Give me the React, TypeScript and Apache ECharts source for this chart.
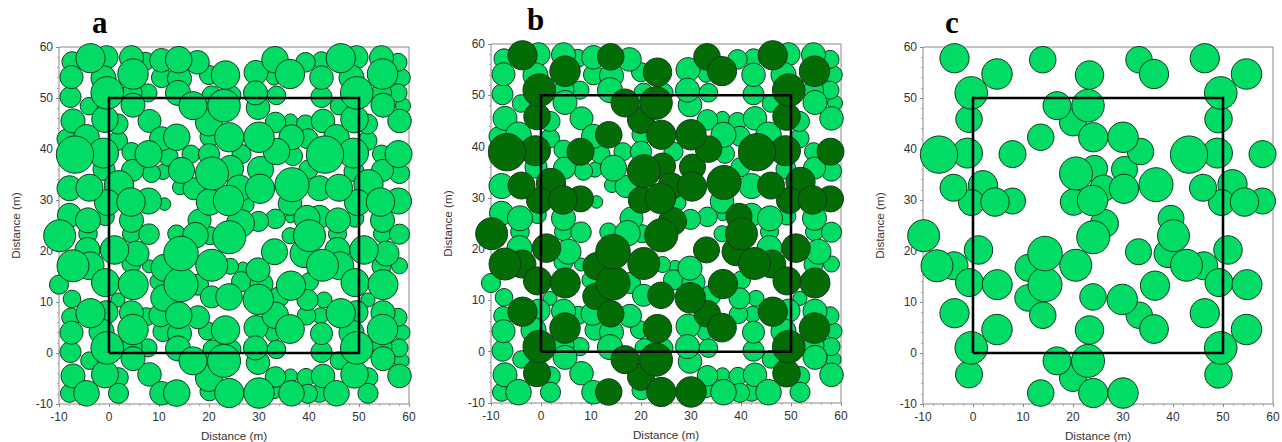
import React, { useEffect, useRef } from "react";
import * as echarts from "echarts";

// [x (m), y (m), diameter (m)]
const largeTreesBehind: number[][] = [[2,32.9,5.85],[51.9,33.1,5.85]];

const largeTrees: number[][] = [
  [-3.7,57.8,5.85],[4.8,54.7,6.1],[13.95,57.5,5.3],[23.3,54.5,5.7],[33.2,57.5,5.3],[36.2,54.7,5.85],[46.35,57.8,5.85],[54.7,54.7,6.1],
  [-0.35,51,6.5],[49.55,51,6.5],[16.8,48.5,5.6],[23,48.5,6.5],[-0.8,45.85,5.3],[49.1,45.85,5.5],[20,45.2,5.4],[13.55,42.3,5.3],
  [24.05,42.3,5.85],[30,42.3,6.1],[33.5,39.5,5.3],[-6.8,38.9,7.45],[-1.1,39.2,6],[7.9,39,5.4],[43.2,38.9,7.45],[48.9,39.2,6],[57.9,39,5.4],
  [24.3,36.2,5.2],[30.3,36,5.2],[20.6,35.2,6.6],[-3.9,32.4,5.4],[46,32.4,5.4],[36.6,33,6.8],[30.2,32.2,5.85],
  [26.05,32.3,5.3],[-0.3,29.5,5.2],[4.4,29.6,5.7],[7.9,29.8,5.2],[20.1,29.6,5.3],[23.9,29.9,6.1],[49.7,29.5,5.2],[54.3,29.6,5.7],[57.9,29.8,5.2],
  [39.6,26.4,5.2],[26.3,25.4,5.6],[-9.87,23,6.4],[40.1,23,6.4],[24.05,22.7,6.6],[1.1,20.2,5.7],[51,20.2,5.7],[33.1,19.85,5.2],[39,19.5,5.6],
  [14.4,19.5,6.9],[20.55,17.2,6.4],[11.1,16.7,5.4],[-3.8,17.1,5.6],[-7.2,17.1,6.4],[46.15,17.1,5.6],[42.7,17.2,6.4],[-0.7,13.8,5.6],[49.2,13.8,5.6],
  [4.85,13.4,6],[54.8,13.4,6],[14.4,13.4,6.8],[36.4,13.2,5.85],[11,10.8,5.3],[24,11,5.3],[29.85,10.5,6.1],[13.95,7.4,5.3],[-3.7,7.8,5.85],
  [33.25,7.4,5.3],[46.35,7.8,5.85],[4.8,4.6,6.1],[23.3,4.5,5.7],[36.2,4.7,5.75],[54.7,4.6,6.1],[-0.35,1,6.5],[49.55,1,6.5],[16.8,-1.55,5.6],
  [23,-1.55,6.6],[-0.8,-4.2,5.4],[49.1,-4.2,5.5],[20,-4.9,5.4],[13.55,-7.85,5.3],[24.05,-7.85,5.85],[30,-7.85,6.1],
];

const smallTrees: number[][] = [
  [-7.4,57.1,4],[-0.5,58,4.6],[4.5,57.9,4.8],[7.3,57.2,3.6],[10.5,57.4,4.7],[17.7,57,4.7],[39.3,57,3.9],[42.5,57.3,3.6],[49.5,58,4.6],[54.5,57.9,4.8],[57.8,57,3.6],
  [-7.5,54.1,4.6],[-1.1,53.9,5],[10.5,54,4],[14.1,53.8,4.8],[20,54.5,3.8],[29.4,55,4.8],[33,54,3],[42.5,54,4.7],[48.5,54,5],[58.5,54,3.5],
  [-7.7,50.2,4.2],[4.6,51,4],[7.8,51,3.6],[13.8,51,5],[20.5,50.5,3.8],[24.5,50.5,3.8],[29.3,51,4.8],[33.5,50.5,3.7],[42.5,50.2,4.2],[54.5,51,4],[57.8,51,3.6],
  [-4,48.4,3.5],[4.8,48.6,4.8],[29.8,48.1,4.7],[46,48.4,3.5],[54.8,48.6,4.8],[58.8,48.5,3],
  [-7.2,45.5,4.8],[1.8,44.9,4],[8.1,45.5,4.6],[33.3,45.2,4.1],[36.3,45.5,2.8],[39.3,44.9,3.6],[42.8,45.5,4.7],[51.7,44.9,4],[58.1,45.5,4.7],
  [-4.5,42.3,5.1],[1.8,41.6,3.8],[10.5,42,4.8],[20.2,42.4,4],[36.5,42.3,5],[39.8,42,4],[45.5,42.3,5.1],[51.7,41.6,3.8],[-8.5,42,3.8],
  [4.5,39.4,3.8],[11.9,38.5,3.8],[16.4,39,3.6],[20,39,4.2],[26.5,39,3.8],[36.8,38.6,3.8],[54.5,39,3.6],
  [4.7,35.8,4.4],[8.5,35.2,3.6],[10.8,35.5,3],[14.5,35.8,5.2],[54.7,35.8,4.4],[58.1,35.2,4],[-1,36,4.4],[39.9,36,3.8],[49,35.6,4],
  [-7.9,32.3,5],[14.2,32.5,3],[17,32.2,4.4],[42.1,32.3,5],
  [11.1,29.2,2.5],[36.2,29.3,4.7],[27.5,29,3],
  [-7.9,27,4.8],[-4.2,26,5],[-0.7,26.7,3.5],[4.5,26,4.8],[18.1,26,4.6],[29.9,25.8,4],[33.3,26.3,3.9],[36.3,26.5,2],[42.1,26.7,4.6],[45.8,26,5],[49.2,26.4,3.5],[54.7,26,4.8],
  [-4.2,23.4,3.7],[4.5,23.4,3.6],[8,23.3,4.1],[13.5,23.4,3.5],[17.3,23.1,5.1],[20.2,23,3.6],[36.2,23,3.2],[45.7,23.4,3.6],[54.7,23.4,3.6],[58.1,23.3,4],
  [-4.3,20.2,5],[5.5,19.5,5],[45.7,20.2,5],[55.5,19.5,5],
  [4.5,17.5,3.8],[8,17,2.6],[24.3,17,3.2],[26.8,16.6,2.5],[29.8,16.3,4.8],[54.5,17,3.8],[58.1,17.1,3.2],
  [-10,13.4,3.8],[9.8,14,3.2],[17.8,13.4,4.2],[26.5,14,4],[30.5,13.5,4.6],[40.1,14,3.6],
  [-7.4,10.6,3.5],[1.8,10.4,2.8],[20.5,11,4.4],[34,11,4],[39.7,10.4,4.2],[43,10.4,3.2],[51.8,10.4,2.8],
  [-7.6,7,3.7],[-0.5,8,4.6],[4.5,7.9,4.8],[7.5,7.1,3.6],[10.3,7.4,4.6],[17.8,7,4.6],[39.5,7.3,3.7],[42.3,7.3,3.2],[49.5,8,4.6],[54.8,7.9,4.8],[57.8,7,3.6],
  [-7.5,4,4.6],[-1.5,4.2,5],[10.8,4.2,4],[14.1,3.8,4.8],[19.7,4.3,3.6],[29.4,5,4.8],[32.8,3.7,3],[42.5,3.8,4.4],[48.5,4,5],[58.6,4,3.2],
  [-7.7,0.2,4.2],[4.5,1.2,4.2],[7.8,1,3.6],[13.8,0.9,5],[20.7,0.7,3.8],[24.5,0.7,3.8],[29.3,1,4.8],[33.5,0.7,3.7],[42.5,0.2,4.2],[54.5,1.2,4.2],[58,1,3.6],
  [-3.9,-1.5,3.5],[4.8,-1.1,4.8],[29.8,-1.9,4.7],[46,-1.5,3.5],[54.8,-1.1,4.8],[58.5,-1.5,3],
  [-7.2,-4.5,4.8],[1.9,-4.8,3.9],[8.1,-4.2,4.7],[33.3,-4.7,4.1],[36.3,-4.5,2.8],[39.4,-4.8,3.6],[42.8,-4.5,4.7],[51.8,-4.8,3.9],[58.1,-4.5,4.7],
  [-7.9,-7.9,3.6],[-4.5,-7.9,5.1],[1.9,-7.9,4],[10.5,-7.9,4.7],[20.1,-7.5,3.8],[33,-7.5,3],[36.5,-7.9,5.1],[39.8,-8,3.8],[42.1,-7.9,3.6],[45.5,-7.9,5.1],[51.8,-7.9,4],
];

const plotSquare: number[][] = [[0,0],[50,0],[50,50],[0,50],[0,0]];
const panelLetters = ["a", "b", "c"];
const axisName = "Distance (m)";

const LIGHT = "#02dc64";
const DARK = "#046c04";
const EDGE = "#0f3a1e";
const PX_PER_M = 5;

const frames = [
  { left: 59, top: 47, width: 350, height: 357, letterX: 92, letterY: 7 },
  { left: 491, top: 44, width: 350, height: 359, letterX: 527, letterY: 4 },
  { left: 923, top: 47, width: 350, height: 357, letterX: 945, letterY: 7 },
];

const bySize = (a: number[], b: number[]) => a[2] - b[2];
const smallSorted = [...smallTrees].sort(bySize);
const largeSorted = [...largeTreesBehind, ...[...largeTrees].sort(bySize)];

function treeSeries(i: number, data: number[][], color: string, z: number) {
  return {
    type: "scatter",
    xAxisIndex: i,
    yAxisIndex: i,
    clip: false,
    z,
    data,
    symbol: "circle",
    symbolSize: (v: number[]) => v[2] * PX_PER_M,
    itemStyle: { color, borderColor: EDGE, borderWidth: 1, opacity: 1 },
    silent: true,
  };
}

function squareSeries(i: number) {
  return {
    type: "line",
    xAxisIndex: i,
    yAxisIndex: i,
    z: 10,
    data: plotSquare,
    showSymbol: false,
    symbol: "none",
    lineStyle: { color: "#000", width: 2.6, join: "miter" },
    silent: true,
  };
}

function axisBase(i: number, name: string, pos: string, gap: number, margin: number) {
  return {
    gridIndex: i,
    type: "value",
    min: -10,
    max: 60,
    interval: 10,
    position: pos,
    name,
    nameLocation: "middle",
    nameGap: gap,
    nameTextStyle: { fontFamily: "Liberation Sans", fontSize: 11.7, color: "#333" },
    splitLine: { show: false },
    axisLine: { show: false, onZero: false },
    axisTick: { show: true, length: 3, lineStyle: { color: "#888", width: 1 } },
    minorTick: { show: true, splitNumber: 5, length: 2, lineStyle: { color: "#aaa", width: 1 } },
    axisLabel: { fontFamily: "Liberation Sans", fontSize: 12, color: "#333", margin, showMinLabel: true, showMaxLabel: true },
  };
}

export default function App() {
  const ref = useRef<HTMLDivElement>(null);
  useEffect(() => {
    if (!ref.current) return;
    const chart = echarts.init(ref.current, undefined, { renderer: "svg" });
    chart.setOption({
      animation: false,
      backgroundColor: "#ffffff",
      grid: frames.map((f) => ({
        left: f.left, top: f.top, width: f.width, height: f.height,
        show: true, borderColor: "#888", borderWidth: 1, backgroundColor: "transparent",
        containLabel: false, outerBoundsMode: "none",
      })),
      xAxis: frames.map((_, i) => axisBase(i, axisName, "bottom", 25, 7)),
      yAxis: frames.map((_, i) => axisBase(i, axisName, "left", 38, 6)),
      series: [
        treeSeries(0, smallSorted, LIGHT, 2),
        treeSeries(0, largeSorted, LIGHT, 3),
        squareSeries(0),
        treeSeries(1, smallSorted, LIGHT, 2),
        treeSeries(1, largeSorted, DARK, 3),
        squareSeries(1),
        treeSeries(2, largeSorted, LIGHT, 2),
        squareSeries(2),
      ],
      graphic: frames.map((f, i) => ({
        type: "text",
        x: f.letterX,
        y: f.letterY,
        style: {
          text: panelLetters[i],
          font: 'bold 31px "Liberation Serif"',
          fill: "#000",
        },
      })),
    });
    return () => chart.dispose();
  }, []);
  return <div ref={ref} style={{ position: "absolute", left: 0, top: 0, width: 1282, height: 442 }} />;
}
